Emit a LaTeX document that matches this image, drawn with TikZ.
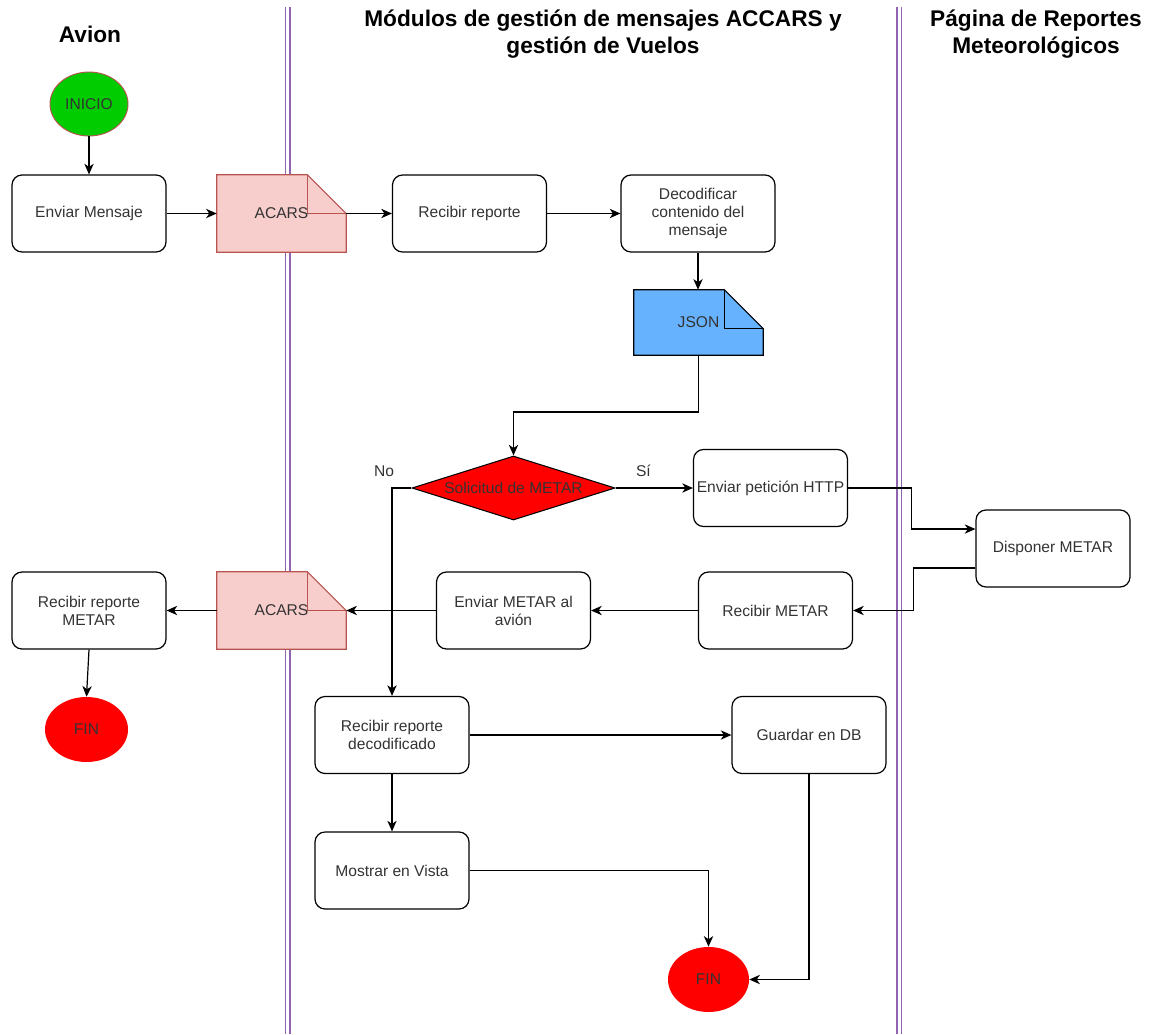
\documentclass[tikz,border=0pt]{standalone}
\usepackage{fontspec}
\setmainfont{Liberation Sans}
\usetikzlibrary{shapes.geometric,arrows.meta,backgrounds,calc}
\definecolor{txt}{HTML}{333333}
\definecolor{lanec}{HTML}{9064B0}
\definecolor{acfill}{HTML}{F8CECC}
\definecolor{acdraw}{HTML}{B85450}
\definecolor{jsonfill}{HTML}{66B2FF}
\definecolor{inigreen}{HTML}{00CC00}
\definecolor{finred}{HTML}{FF0000}
\newcommand{\foldeddoc}[3]{%
  \filldraw[fill=#2, draw=#3, line width=0.8pt, line join=miter]
    (#1.north west) -- ([xshift=-29.25pt]#1.north east) -- ([yshift=-29.25pt]#1.north east)
    -- (#1.south east) -- (#1.south west) -- cycle;
  \draw[draw=#3, line width=0.8pt]
    ([xshift=-29.25pt]#1.north east) -- ([xshift=-29.25pt,yshift=-29.25pt]#1.north east)
    -- ([yshift=-29.25pt]#1.north east);
}
\begin{document}
\begin{tikzpicture}[x=0.75pt,y=-0.75pt,
  every node/.style={font=\fontsize{11.7}{13.5}\selectfont, text=txt},
  box/.style={draw=black, line width=0.9pt, rounded corners=7.5pt,
    minimum width=115.5pt, minimum height=57.75pt, align=center, inner sep=0pt},
  docnode/.style={minimum width=96.75pt, minimum height=57.75pt, inner sep=0pt},
  arr/.style={draw=black, line width=0.9pt, -{Stealth[length=8pt,width=7pt,inset=2.4pt]}},
  lane/.style={draw=lanec, line width=0.8pt},
  title/.style={font=\fontsize{17}{20.5}\selectfont\bfseries, text=black, align=center},
  terminal/.style={ellipse, inner sep=0pt},
  decision/.style={diamond, fill=finred, draw=black, line width=0.8pt, inner sep=0pt,
    aspect=3.17, minimum width=152.25pt, minimum height=48pt}
]
\useasboundingbox (0,0) rectangle (1155,1034);

% titles
\node[title] (t1) at (90,34) {Avion};
\node[title] (t2) at (603,34) {Módulos de gestión de mensajes ACCARS y\\gestión de Vuelos};
\node[title] (t3) at (1036,34) {Página de Reportes\\Meteorológicos};

% nodes
\node[terminal, fill=inigreen, draw=acdraw, line width=0.7pt, minimum width=58.5pt, minimum height=48pt] (inicio) at (89,104) {INICIO};
\node[box] (enviar) at (89,213.5) {Enviar Mensaje};
\node[docnode] (acars1) at (281.5,213.5) {ACARS};
\node[box] (recibir) at (469.5,213.5) {Recibir reporte};
\node[box] (decod) at (698,213.5) {Decodificar\\contenido del\\mensaje};
\node[docnode, minimum height=48.75pt] (json) at (698.5,322.5) {JSON};
\node[decision] (dia) at (513.5,488) {Solicitud de METAR};
\node[box] (http) at (770.5,488) {Enviar petición HTTP};
\node[box] (disp) at (1053,548.5) {Disponer METAR};
\node[box] (recmetar) at (775.5,610.5) {Recibir METAR};
\node[box] (envmetar) at (513.5,610.5) {Enviar METAR al\\avión};
\node[docnode] (acars2) at (281.5,610.5) {ACARS};
\node[box] (recrep) at (89,610.5) {Recibir reporte\\METAR};
\node[terminal, fill=finred, minimum width=62.25pt, minimum height=48.75pt] (fin1) at (86.5,729.5) {FIN};
\node[box] (recdec) at (392,735) {Recibir reporte\\decodificado};
\node[box] (guardar) at (809,735) {Guardar en DB};
\node[box] (mostrar) at (392,870.5) {Mostrar en Vista};
\node[terminal, fill=finred, minimum width=60.75pt, minimum height=48.75pt] (fin2) at (708.5,979.5) {FIN};

% background: lanes and document shapes
\begin{scope}[on background layer]
  \draw[lane] (285.5,7) -- (285.5,1034);
  \draw[lane] (290,7) -- (290,1034);
  \draw[lane] (897,7) -- (897,1034);
  \draw[lane] (901.5,7) -- (901.5,1034);
  \foldeddoc{acars1}{acfill}{acdraw}
  \foldeddoc{acars2}{acfill}{acdraw}
  \foldeddoc{json}{jsonfill}{black}
\end{scope}

\coordinate (jbend) at (698.5,412);

% connectors
\draw[arr] (inicio.south) -- (enviar.north);
\draw[arr] (enviar.east) -- (acars1.west);
\draw[arr] (acars1.east) -- (recibir.west);
\draw[arr] (recibir.east) -- (decod.west);
\draw[arr] (decod.south) -- (decod.south |- json.north);
\draw[arr] (json.south) -- (jbend) -| (dia.north);
\draw[arr] (dia.east) -- node[pos=0.36, yshift=12.75pt] {Sí} (http.west);
\draw[arr] (dia.west) -| node[pos=0.5, xshift=-6pt, yshift=12.75pt] {No} (recdec.north);
\draw[arr] (http.east) -- ++(63,0) |- ([yshift=14.6pt]disp.west);
\draw[arr] ([yshift=-14.6pt]disp.west) -- ++(-62,0) |- (recmetar.east);
\draw[arr] (recmetar.west) -- (envmetar.east);
\draw[arr] (envmetar.west) -- (acars2.east);
\draw[arr] (acars2.west) -- (recrep.east);
\draw[arr] (recrep.south) -- (fin1.north);
\draw[arr] (recdec.east) -- (guardar.west);
\draw[arr] (recdec.south) -- (mostrar.north);
\draw[arr] (mostrar.east) -| (fin2.north);
\draw[arr] (guardar.south) |- (fin2.east);
\end{tikzpicture}
\end{document}
